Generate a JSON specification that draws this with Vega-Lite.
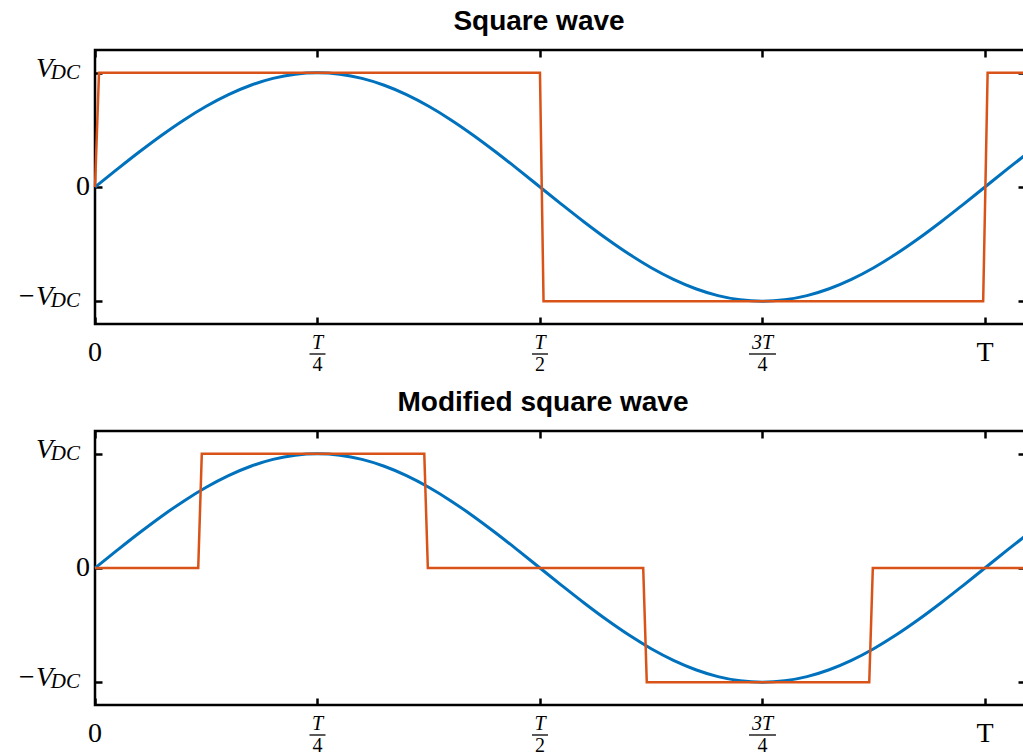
{
  "$schema": "https://vega.github.io/schema/vega-lite/v6.json",
  "background": "white",
  "padding": {"left": 15, "top": 6, "right": 0, "bottom": 0},
  "datasets": {
    "sine": [
      {"t": 0, "v": 0}, {"t": 0.025, "v": 0.1564}, {"t": 0.05, "v": 0.309}, {"t": 0.075, "v": 0.454},
      {"t": 0.1, "v": 0.5878}, {"t": 0.125, "v": 0.7071}, {"t": 0.15, "v": 0.809}, {"t": 0.175, "v": 0.891},
      {"t": 0.2, "v": 0.9511}, {"t": 0.225, "v": 0.9877}, {"t": 0.25, "v": 1}, {"t": 0.275, "v": 0.9877},
      {"t": 0.3, "v": 0.9511}, {"t": 0.325, "v": 0.891}, {"t": 0.35, "v": 0.809}, {"t": 0.375, "v": 0.7071},
      {"t": 0.4, "v": 0.5878}, {"t": 0.425, "v": 0.454}, {"t": 0.45, "v": 0.309}, {"t": 0.475, "v": 0.1564},
      {"t": 0.5, "v": 0}, {"t": 0.525, "v": -0.1564}, {"t": 0.55, "v": -0.309}, {"t": 0.575, "v": -0.454},
      {"t": 0.6, "v": -0.5878}, {"t": 0.625, "v": -0.7071}, {"t": 0.65, "v": -0.809}, {"t": 0.675, "v": -0.891},
      {"t": 0.7, "v": -0.9511}, {"t": 0.725, "v": -0.9877}, {"t": 0.75, "v": -1}, {"t": 0.775, "v": -0.9877},
      {"t": 0.8, "v": -0.9511}, {"t": 0.825, "v": -0.891}, {"t": 0.85, "v": -0.809}, {"t": 0.875, "v": -0.7071},
      {"t": 0.9, "v": -0.5878}, {"t": 0.925, "v": -0.454}, {"t": 0.95, "v": -0.309}, {"t": 0.975, "v": -0.1564},
      {"t": 1, "v": 0}, {"t": 1.025, "v": 0.1564}, {"t": 1.045, "v": 0.279}
    ],
    "square": [
      {"t": 0, "v": 0}, {"t": 0.0045, "v": 1}, {"t": 0.5, "v": 1}, {"t": 0.504, "v": -1},
      {"t": 0.998, "v": -1}, {"t": 1.003, "v": 1}, {"t": 1.045, "v": 1}
    ],
    "modsq": [
      {"t": 0, "v": 0}, {"t": 0.116, "v": 0}, {"t": 0.12, "v": 1}, {"t": 0.37, "v": 1},
      {"t": 0.374, "v": 0}, {"t": 0.616, "v": 0}, {"t": 0.62, "v": -1}, {"t": 0.87, "v": -1},
      {"t": 0.874, "v": 0}, {"t": 1.045, "v": 0}
    ],
    "ylab": [
      {"y": 1, "main": "V", "sub": "DC"},
      {"y": 0, "main": "0", "sub": ""},
      {"y": -1, "main": "−V", "sub": "DC"}
    ],
    "xlab": [
      {"pos": 0, "lab": "0", "num": "", "den": ""},
      {"pos": 0.25, "lab": "", "num": "T", "den": "4"},
      {"pos": 0.5, "lab": "", "num": "T", "den": "2"},
      {"pos": 0.75, "lab": "", "num": "3T", "den": "4"},
      {"pos": 1, "lab": "T", "num": "", "den": ""}
    ]
  },
  "vconcat": [
    {
      "width": 930,
      "height": 274,
      "title": {"text": "Square wave", "font": "Liberation Sans", "fontSize": 28, "fontWeight": "bold", "color": "black", "anchor": "middle", "dx": -21, "baseline": "alphabetic", "offset": -9},
      "layer": [
        {
          "data": {"name": "sine"},
          "mark": {"type": "line", "color": "#0072BD", "strokeWidth": 3, "interpolate": "monotone"},
          "encoding": {
            "x": {"field": "t", "type": "quantitative", "scale": {"domain": [0, 1.045], "nice": false, "zero": false}, "axis": {"orient": "bottom", "values": [0, 0.25, 0.5, 0.75, 1], "title": null}},
            "y": {"field": "v", "type": "quantitative", "scale": {"domain": [-1.2, 1.2], "nice": false}, "axis": {"orient": "left", "values": [-1, 0, 1], "title": null}}
          }
        },
        {
          "data": {"name": "square"},
          "mark": {"type": "line", "color": "#D95319", "strokeWidth": 2.5, "strokeJoin": "miter"},
          "encoding": {
            "x": {"field": "t", "type": "quantitative", "axis": {"orient": "top", "values": [0, 0.25, 0.5, 0.75, 1], "title": null}},
            "y": {"field": "v", "type": "quantitative", "axis": {"orient": "right", "values": [-1, 0, 1], "title": null}}
          }
        },
        {
          "data": {"name": "ylab"},
          "transform": [{"filter": "datum.sub != ''"}],
          "mark": {"type": "text", "font": "Liberation Serif", "fontStyle": "italic", "fontSize": 28, "align": "right", "baseline": "alphabetic", "dx": -42, "dy": 4, "color": "black"},
          "encoding": {"x": {"datum": 0, "type": "quantitative", "axis": null}, "y": {"field": "y", "type": "quantitative", "axis": null}, "text": {"field": "main"}}
        },
        {
          "data": {"name": "ylab"},
          "transform": [{"filter": "datum.sub != ''"}],
          "mark": {"type": "text", "font": "Liberation Serif", "fontStyle": "italic", "fontSize": 21, "align": "right", "baseline": "alphabetic", "dx": -15, "dy": 6, "color": "black"},
          "encoding": {"x": {"datum": 0, "type": "quantitative", "axis": null}, "y": {"field": "y", "type": "quantitative", "axis": null}, "text": {"field": "sub"}}
        },
        {
          "data": {"name": "ylab"},
          "transform": [{"filter": "datum.sub == ''"}],
          "mark": {"type": "text", "font": "Liberation Serif", "fontSize": 28, "align": "right", "baseline": "alphabetic", "dx": -5, "dy": 8, "color": "black"},
          "encoding": {"x": {"datum": 0, "type": "quantitative", "axis": null}, "y": {"field": "y", "type": "quantitative", "axis": null}, "text": {"field": "main"}}
        },
        {
          "data": {"name": "xlab"},
          "transform": [{"filter": "datum.lab != ''"}],
          "mark": {"type": "text", "font": "Liberation Serif", "fontSize": 28, "align": "center", "baseline": "alphabetic", "dy": 37, "color": "black"},
          "encoding": {"x": {"field": "pos", "type": "quantitative", "axis": null}, "y": {"datum": -1.2, "type": "quantitative", "axis": null}, "text": {"field": "lab"}}
        },
        {
          "data": {"name": "xlab"},
          "transform": [{"filter": "datum.num != ''"}],
          "mark": {"type": "text", "font": "Liberation Serif", "fontStyle": "italic", "fontSize": 20, "align": "center", "baseline": "alphabetic", "dy": 25, "color": "black"},
          "encoding": {"x": {"field": "pos", "type": "quantitative", "axis": null}, "y": {"datum": -1.2, "type": "quantitative", "axis": null}, "text": {"field": "num"}}
        },
        {
          "data": {"name": "xlab"},
          "transform": [{"filter": "datum.den != ''"}],
          "mark": {"type": "text", "font": "Liberation Serif", "fontSize": 20, "align": "center", "baseline": "alphabetic", "dy": 47, "color": "black"},
          "encoding": {"x": {"field": "pos", "type": "quantitative", "axis": null}, "y": {"datum": -1.2, "type": "quantitative", "axis": null}, "text": {"field": "den"}}
        },
        {
          "data": {"name": "xlab"},
          "transform": [{"filter": "datum.num == 'T'"}],
          "mark": {"type": "tick", "orient": "horizontal", "size": 16, "thickness": 1.3, "color": "black", "opacity": 1, "yOffset": 30},
          "encoding": {"x": {"field": "pos", "type": "quantitative", "axis": null}, "y": {"datum": -1.2, "type": "quantitative", "axis": null}}
        },
        {
          "data": {"name": "xlab"},
          "transform": [{"filter": "datum.num == '3T'"}],
          "mark": {"type": "tick", "orient": "horizontal", "size": 27, "thickness": 1.3, "color": "black", "opacity": 1, "yOffset": 30},
          "encoding": {"x": {"field": "pos", "type": "quantitative", "axis": null}, "y": {"datum": -1.2, "type": "quantitative", "axis": null}}
        }
      ],
      "resolve": {"axis": {"x": "independent", "y": "independent"}}
    },
    {
      "width": 930,
      "height": 274,
      "title": {"text": "Modified square wave", "font": "Liberation Sans", "fontSize": 28, "fontWeight": "bold", "color": "black", "anchor": "middle", "dx": -17, "baseline": "alphabetic", "offset": -9},
      "layer": [
        {
          "data": {"name": "sine"},
          "mark": {"type": "line", "color": "#0072BD", "strokeWidth": 3, "interpolate": "monotone"},
          "encoding": {
            "x": {"field": "t", "type": "quantitative", "scale": {"domain": [0, 1.045], "nice": false, "zero": false}, "axis": {"orient": "bottom", "values": [0, 0.25, 0.5, 0.75, 1], "title": null}},
            "y": {"field": "v", "type": "quantitative", "scale": {"domain": [-1.2, 1.2], "nice": false}, "axis": {"orient": "left", "values": [-1, 0, 1], "title": null}}
          }
        },
        {
          "data": {"name": "modsq"},
          "mark": {"type": "line", "color": "#D95319", "strokeWidth": 2.5, "strokeJoin": "miter"},
          "encoding": {
            "x": {"field": "t", "type": "quantitative", "axis": {"orient": "top", "values": [0, 0.25, 0.5, 0.75, 1], "title": null}},
            "y": {"field": "v", "type": "quantitative", "axis": {"orient": "right", "values": [-1, 0, 1], "title": null}}
          }
        },
        {
          "data": {"name": "ylab"},
          "transform": [{"filter": "datum.sub != ''"}],
          "mark": {"type": "text", "font": "Liberation Serif", "fontStyle": "italic", "fontSize": 28, "align": "right", "baseline": "alphabetic", "dx": -42, "dy": 4, "color": "black"},
          "encoding": {"x": {"datum": 0, "type": "quantitative", "axis": null}, "y": {"field": "y", "type": "quantitative", "axis": null}, "text": {"field": "main"}}
        },
        {
          "data": {"name": "ylab"},
          "transform": [{"filter": "datum.sub != ''"}],
          "mark": {"type": "text", "font": "Liberation Serif", "fontStyle": "italic", "fontSize": 21, "align": "right", "baseline": "alphabetic", "dx": -15, "dy": 6, "color": "black"},
          "encoding": {"x": {"datum": 0, "type": "quantitative", "axis": null}, "y": {"field": "y", "type": "quantitative", "axis": null}, "text": {"field": "sub"}}
        },
        {
          "data": {"name": "ylab"},
          "transform": [{"filter": "datum.sub == ''"}],
          "mark": {"type": "text", "font": "Liberation Serif", "fontSize": 28, "align": "right", "baseline": "alphabetic", "dx": -5, "dy": 8, "color": "black"},
          "encoding": {"x": {"datum": 0, "type": "quantitative", "axis": null}, "y": {"field": "y", "type": "quantitative", "axis": null}, "text": {"field": "main"}}
        },
        {
          "data": {"name": "xlab"},
          "transform": [{"filter": "datum.lab != ''"}],
          "mark": {"type": "text", "font": "Liberation Serif", "fontSize": 28, "align": "center", "baseline": "alphabetic", "dy": 37, "color": "black"},
          "encoding": {"x": {"field": "pos", "type": "quantitative", "axis": null}, "y": {"datum": -1.2, "type": "quantitative", "axis": null}, "text": {"field": "lab"}}
        },
        {
          "data": {"name": "xlab"},
          "transform": [{"filter": "datum.num != ''"}],
          "mark": {"type": "text", "font": "Liberation Serif", "fontStyle": "italic", "fontSize": 20, "align": "center", "baseline": "alphabetic", "dy": 25, "color": "black"},
          "encoding": {"x": {"field": "pos", "type": "quantitative", "axis": null}, "y": {"datum": -1.2, "type": "quantitative", "axis": null}, "text": {"field": "num"}}
        },
        {
          "data": {"name": "xlab"},
          "transform": [{"filter": "datum.den != ''"}],
          "mark": {"type": "text", "font": "Liberation Serif", "fontSize": 20, "align": "center", "baseline": "alphabetic", "dy": 47, "color": "black"},
          "encoding": {"x": {"field": "pos", "type": "quantitative", "axis": null}, "y": {"datum": -1.2, "type": "quantitative", "axis": null}, "text": {"field": "den"}}
        },
        {
          "data": {"name": "xlab"},
          "transform": [{"filter": "datum.num == 'T'"}],
          "mark": {"type": "tick", "orient": "horizontal", "size": 16, "thickness": 1.3, "color": "black", "opacity": 1, "yOffset": 30},
          "encoding": {"x": {"field": "pos", "type": "quantitative", "axis": null}, "y": {"datum": -1.2, "type": "quantitative", "axis": null}}
        },
        {
          "data": {"name": "xlab"},
          "transform": [{"filter": "datum.num == '3T'"}],
          "mark": {"type": "tick", "orient": "horizontal", "size": 27, "thickness": 1.3, "color": "black", "opacity": 1, "yOffset": 30},
          "encoding": {"x": {"field": "pos", "type": "quantitative", "axis": null}, "y": {"datum": -1.2, "type": "quantitative", "axis": null}}
        }
      ],
      "resolve": {"axis": {"x": "independent", "y": "independent"}}
    }
  ],
  "spacing": 107,
  "bounds": "flush",
  "config": {
    "view": {"stroke": "black", "strokeWidth": 2.5},
    "axis": {"domain": false, "grid": false, "labels": false, "ticks": true, "tickColor": "black", "tickWidth": 2.5, "tickSize": -7, "minExtent": 0, "maxExtent": 0}
  }
}
